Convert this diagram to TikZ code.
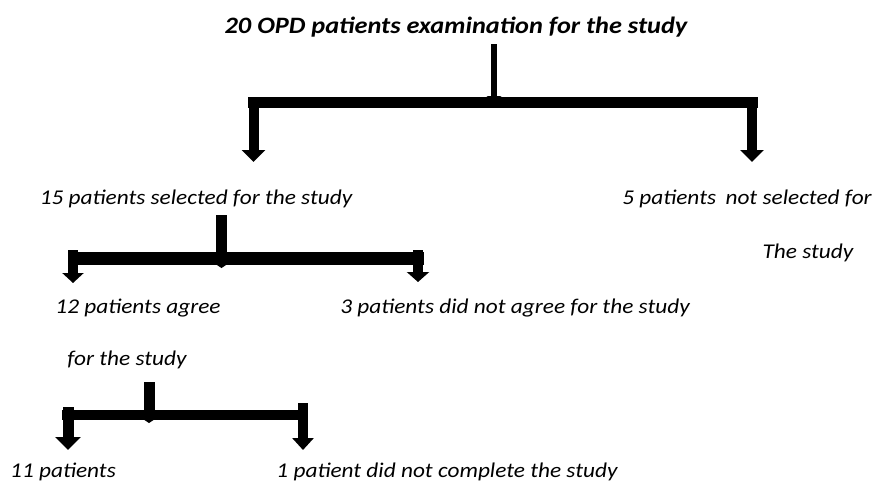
\documentclass[tikz,border=0pt]{standalone}
\usepackage{fontspec}
\setmainfont{Carlito}[FakeStretch=1.11]
\newfontfamily\ttlfont{Carlito}[FakeStretch=1.12]
\usetikzlibrary{arrows.meta}
\begin{document}
\begin{tikzpicture}[x=1pt,y=-1pt,
  lbl/.style={inner sep=0pt,font=\fontsize{21}{25}\selectfont\itshape},
  ttl/.style={inner sep=0pt,font=\ttlfont\fontsize{23.5}{27}\selectfont\bfseries\itshape},
  barline/.style={line width=#1pt},
  drop/.style={line width=10pt,-{Triangle[length=12pt,width=23pt]}},
  feed/.style={line width=#1pt,-{Triangle[length=5pt,width=15pt]}}]
\useasboundingbox (0,0) rectangle (874,485);
% texts
\node[ttl] (t) at (456,27) {20 OPD patients examination for the study};
\node[lbl] (n15) at (196,199) {15 patients selected for the study};
\node[lbl] (n5) at (747,199) {5 patients\hspace{0.45em}not selected for};
\node[lbl] (n5b) at (808,253) {The study};
\node[lbl] (n12) at (138,308) {12 patients agree};
\node[lbl] (n3) at (515,308) {3 patients did not agree for the study};
\node[lbl] (n12b) at (127,360) {for the study};
\node[lbl] (n11) at (63,472) {11 patients};
\node[lbl] (n1) at (447,472) {1 patient did not complete the study};
% level 1
\coordinate (f1s) at (494,44);
\coordinate (f1e) at (494,101);
\coordinate (b1l) at (248,102.5);
\coordinate (b1r) at (758,102.5);
\coordinate (d1ls) at (253.5,97);
\coordinate (d1le) at (253.5,162);
\coordinate (d1rs) at (752,97);
\coordinate (d1re) at (752,162);
\draw[feed=6] (f1s) -- (f1e);
\draw[barline=11] (b1l) -- (b1r);
\draw[drop] (d1ls) -- (d1le);
\draw[drop] (d1rs) -- (d1re);
% level 2
\coordinate (f2s) at (221.5,215);
\coordinate (f2e) at (221.5,268);
\coordinate (b2l) at (68,258.5);
\coordinate (b2r) at (424,258.5);
\coordinate (d2ls) at (73,250);
\coordinate (d2le) at (73,283);
\coordinate (d2rs) at (418,250);
\coordinate (d2re) at (418,282);
\draw[feed=11] (f2s) -- (f2e);
\draw[barline=13] (b2l) -- (b2r);
\draw[line width=10pt,-{Triangle[length=10pt,width=21pt]}] (d2ls) -- (d2le);
\draw[line width=10pt,-{Triangle[length=10pt,width=22pt]}] (d2rs) -- (d2re);
% level 3
\coordinate (f3s) at (149,382);
\coordinate (f3e) at (149,423);
\coordinate (b3l) at (62,415);
\coordinate (b3r) at (307,415);
\coordinate (d3ls) at (68,407);
\coordinate (d3le) at (68,450);
\coordinate (d3rs) at (303,403);
\coordinate (d3re) at (303,450);
\draw[feed=11] (f3s) -- (f3e);
\draw[barline=10] (b3l) -- (b3r);
\draw[line width=11pt,-{Triangle[length=13pt,width=25pt]}] (d3ls) -- (d3le);
\draw[line width=10pt,-{Triangle[length=12pt,width=21pt]}] (d3rs) -- (d3re);
\end{tikzpicture}
\end{document}
